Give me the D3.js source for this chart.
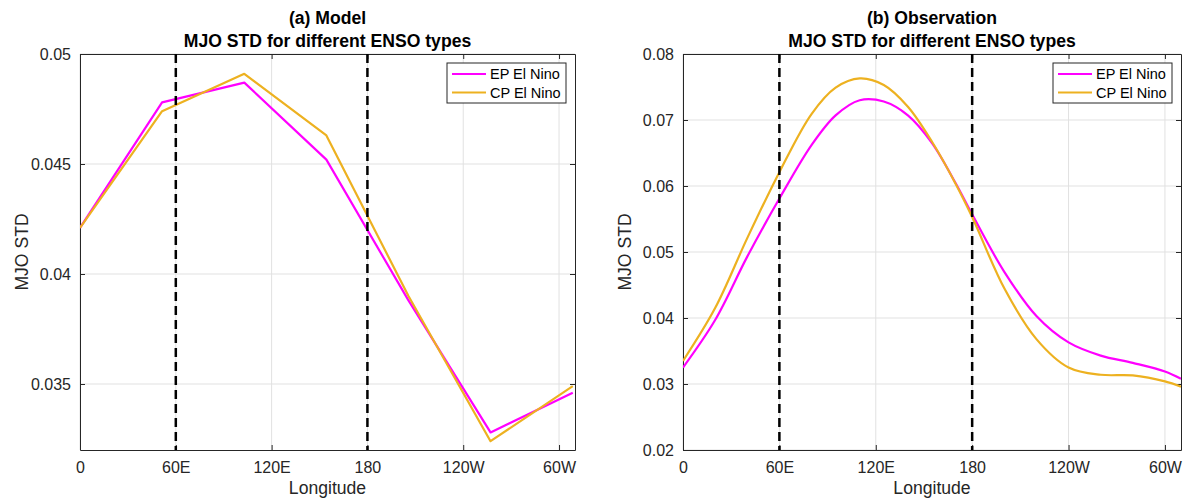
<!DOCTYPE html>
<html><head><meta charset="utf-8">
<script src="https://cdn.jsdelivr.net/npm/d3@7"></script>
<style>
body{margin:0;background:#fff;}
svg{display:block;font-family:"Liberation Sans",Arial,Helvetica,sans-serif;}
</style>
</head><body>
<svg id="chart" width="1191" height="502"></svg>
<script>
// ---------- data ----------
const xTickValues = [0, 60, 120, 180, 240, 300];
const xTickLabels = ["0", "60E", "120E", "180", "120W", "60W"];
const dashedLongitudes = [60, 180];
const seriesNames = ["EP El Nino", "CP El Nino"];
const seriesColors = ["#ff00ff", "#edb120"];

const modelTitle = "(a) Model";
const obsTitle = "(b) Observation";
const subTitle = "MJO STD for different ENSO types";
const xLabel = "Longitude";
const yLabel = "MJO STD";

const modelLon = [0, 51.4, 102.9, 154.3, 205.7, 257.1, 308.6];
const modelEP  = [0.0421, 0.0478, 0.0487, 0.0452, 0.0388, 0.0328, 0.0346];
const modelCP  = [0.0421, 0.0474, 0.0491, 0.0463, 0.0390, 0.0324, 0.0349];
const modelYTicks = [0.035, 0.04, 0.045, 0.05];
const modelYTickLabels = ["0.035", "0.04", "0.045", "0.05"];
const modelYDomain = [0.032, 0.05];

const obsLon = [0, 20, 40, 60, 80, 95, 110, 125, 140, 155, 170, 180, 200, 220, 240, 260, 280, 300, 310];
const obsEP  = [0.0325, 0.0397, 0.0493, 0.0581, 0.0662, 0.0707, 0.0730, 0.0728, 0.0707, 0.0665, 0.0603, 0.0557, 0.0470, 0.0403, 0.0363, 0.0343, 0.0332, 0.0319, 0.0308];
const obsCP  = [0.0335, 0.0415, 0.0521, 0.0621, 0.0709, 0.0749, 0.0763, 0.0753, 0.0720, 0.0667, 0.0602, 0.0553, 0.0445, 0.0368, 0.0325, 0.0314, 0.0313, 0.0304, 0.0296];
const obsYTicks = [0.02, 0.03, 0.04, 0.05, 0.06, 0.07, 0.08];
const obsYTickLabels = ["0.02", "0.03", "0.04", "0.05", "0.06", "0.07", "0.08"];
const obsYDomain = [0.02, 0.08];

const xDomain = [0, 310];

// ---------- drawing ----------
const svg = d3.select("#chart");
const axisColor = "#262626";

function panel(opts) {
  const {left, right, top, bottom, lon, ep, cp, yTicks, yTickLabels, yDomain, title, curve, id} = opts;
  const x = d3.scaleLinear().domain(xDomain).range([left, right]);
  const y = d3.scaleLinear().domain(yDomain).range([bottom, top]);
  const g = svg.append("g");

  g.append("clipPath").attr("id", id).append("rect")
    .attr("x", left).attr("y", top).attr("width", right - left).attr("height", bottom - top);

  // grid
  g.append("g").selectAll("line").data(xTickValues).join("line")
    .attr("x1", d => x(d)).attr("x2", d => x(d)).attr("y1", top).attr("y2", bottom)
    .attr("stroke", "#e1e1e1").attr("stroke-width", 1);
  g.append("g").selectAll("line").data(yTicks).join("line")
    .attr("x1", left).attr("x2", right).attr("y1", d => y(d)).attr("y2", d => y(d))
    .attr("stroke", "#e1e1e1").attr("stroke-width", 1);

  // axes
  const xAxis = d3.axisBottom(x).tickValues(xTickValues).tickFormat((d, i) => xTickLabels[i]).tickSizeInner(-5).tickSizeOuter(0).tickPadding(12);
  const xAxisTop = d3.axisTop(x).tickValues(xTickValues).tickFormat("").tickSizeInner(-5).tickSizeOuter(0);
  const yAxis = d3.axisLeft(y).tickValues(yTicks).tickFormat((d, i) => yTickLabels[i]).tickSizeInner(-5).tickSizeOuter(0).tickPadding(9);
  const yAxisRight = d3.axisRight(y).tickValues(yTicks).tickFormat("").tickSizeInner(-5).tickSizeOuter(0);

  const ax = [
    g.append("g").attr("transform", `translate(0,${bottom})`).call(xAxis),
    g.append("g").attr("transform", `translate(0,${top})`).call(xAxisTop),
    g.append("g").attr("transform", `translate(${left},0)`).call(yAxis),
    g.append("g").attr("transform", `translate(${right},0)`).call(yAxisRight)
  ];
  ax.forEach(a => {
    a.select(".domain").attr("stroke", axisColor).attr("stroke-width", 1);
    a.selectAll(".tick line").attr("stroke", axisColor);
    a.selectAll(".tick text").attr("fill", axisColor).attr("font-size", 16).attr("font-family", "Liberation Sans, Arial, sans-serif");
  });

  // data lines
  const line = d3.line().x(d => x(d[0])).y(d => y(d[1])).curve(curve);
  const dl = g.append("g").attr("clip-path", `url(#${id})`);
  [ep, cp].forEach((vals, i) => {
    dl.append("path").datum(lon.map((l, j) => [l, vals[j]]))
      .attr("d", line).attr("fill", "none")
      .attr("stroke", seriesColors[i]).attr("stroke-width", 2.2)
      .attr("stroke-linejoin", "round");
  });

  // dashed reference lines
  g.append("g").selectAll("line").data(dashedLongitudes).join("line")
    .attr("x1", d => x(d)).attr("x2", d => x(d)).attr("y1", top).attr("y2", bottom)
    .attr("stroke", "#000").attr("stroke-width", 2.5).attr("stroke-dasharray", "9,5");

  // titles
  const cx = (left + right) / 2;
  g.append("text").attr("x", cx).attr("y", 24).attr("text-anchor", "middle")
    .attr("font-size", 17.6).attr("font-weight", "bold").attr("fill", "#000").text(title);
  g.append("text").attr("x", cx).attr("y", 47).attr("text-anchor", "middle")
    .attr("font-size", 17.6).attr("font-weight", "bold").attr("fill", "#000").text(subTitle);

  // axis labels
  g.append("text").attr("x", cx).attr("y", 494).attr("text-anchor", "middle")
    .attr("font-size", 17.6).attr("fill", axisColor).text(xLabel);
  g.append("text").attr("transform", `translate(${left - 52},${(top + bottom) / 2}) rotate(-90)`)
    .attr("text-anchor", "middle").attr("font-size", 17.6).attr("fill", axisColor).text(yLabel);

  // legend
  const lw = 119, lh = 40;
  const lx = right - 9 - lw, ly = top + 9;
  const lg = g.append("g");
  lg.append("rect").attr("x", lx).attr("y", ly).attr("width", lw).attr("height", lh)
    .attr("fill", "#fff").attr("stroke", axisColor).attr("stroke-width", 1);
  seriesNames.forEach((name, i) => {
    const yy = ly + 11 + i * 18.5;
    lg.append("line").attr("x1", lx + 5).attr("x2", lx + 39).attr("y1", yy).attr("y2", yy)
      .attr("stroke", seriesColors[i]).attr("stroke-width", 2.2);
    lg.append("text").attr("x", lx + 43).attr("y", yy).attr("dy", "0.35em")
      .attr("font-size", 14.5).attr("fill", "#000").text(name);
  });
}

panel({left: 80, right: 575, top: 54, bottom: 450, lon: modelLon, ep: modelEP, cp: modelCP,
  yTicks: modelYTicks, yTickLabels: modelYTickLabels, yDomain: modelYDomain, title: modelTitle,
  curve: d3.curveLinear, id: "clipA"});
panel({left: 683, right: 1181, top: 54, bottom: 450, lon: obsLon, ep: obsEP, cp: obsCP,
  yTicks: obsYTicks, yTickLabels: obsYTickLabels, yDomain: obsYDomain, title: obsTitle,
  curve: d3.curveCatmullRom.alpha(0.5), id: "clipB"});
</script>
</body></html>
